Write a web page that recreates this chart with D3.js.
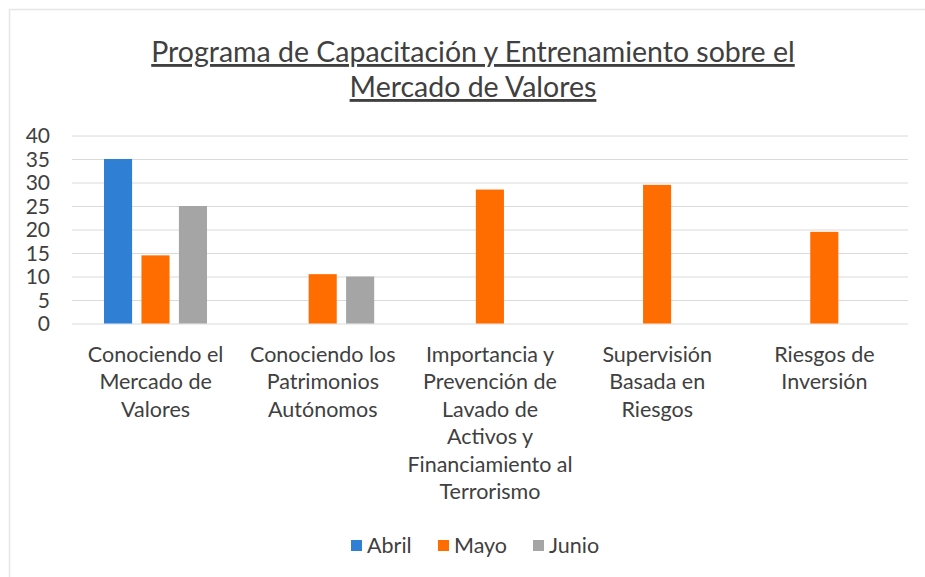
<!DOCTYPE html>
<html lang='es'>
	<head>
		<meta charset='utf-8'>
		<title>Programa de Capacitación</title>
		<script type='text/javascript' src='https://cdn.jsdelivr.net/npm/d3@7'></script>
		<style>
			body { margin: 0; background: #ffffff; }
			text { font-family: Lato, 'Open Sans', sans-serif; fill: #404040; }
		</style>
	</head>
	<body>
		<script type='text/javascript'>
		{
			var categories = [
				['Conociendo el', 'Mercado de', 'Valores'],
				['Conociendo los', 'Patrimonios', 'Autónomos'],
				['Importancia y', 'Prevención de', 'Lavado de', 'Activos y', 'Financiamiento al', 'Terrorismo'],
				['Supervisión', 'Basada en', 'Riesgos'],
				['Riesgos de', 'Inversión']
			];
			var series_names = ['Abril', 'Mayo', 'Junio'];
			var series_colors = ['#2f7fd4', '#ff6d00', '#a5a5a5'];
			var abril = [35, null, null, null, null];
			var mayo = [14.5, 10.5, 28.5, 29.5, 19.5];
			var junio = [25, 10, null, null, null];
			var y_ticks = [0, 5, 10, 15, 20, 25, 30, 35, 40];
			var title_lines = ['Programa de Capacitación y Entrenamiento sobre el', 'Mercado de Valores'];

			var width = 925, height = 577;
			var svg = d3.select('body').append('svg').attr('width', width).attr('height', height);

			// chart border (only left and top edges visible on the scan)
			svg.append('path').attr('d', 'M9.5,' + height + 'V9.5H' + width)
				.attr('fill', 'none').attr('stroke', '#e6e6e6').attr('stroke-width', 1.5);

			// title
			svg.selectAll('text.title').data(title_lines).enter().append('text')
				.attr('class', 'title')
				.attr('x', 473).attr('y', (d, i) => 62 + i * 35)
				.attr('text-anchor', 'middle')
				.style('font-size', '28.5px')
				.style('text-decoration', 'underline')
				.text(d => d);

			var plot_left = 72, plot_right = 908, y0 = 323.5, y40 = 135.5;
			var cat_idx = d3.range(categories.length);
			var x0 = d3.scaleBand().domain(cat_idx).range([plot_left, plot_right]);
			var x1 = d3.scaleBand().domain(series_names).range([32, 135]).paddingInner(0.25);
			var y = d3.scaleLinear().domain([0, 40]).range([y0, y40]);

			// gridlines
			svg.append('g').selectAll('line').data(y_ticks).enter().append('line')
				.attr('x1', plot_left).attr('x2', plot_right)
				.attr('y1', d => y(d) + 0.5).attr('y2', d => y(d) + 0.5)
				.attr('stroke', '#dadada').attr('stroke-width', 1);

			// y axis labels
			var y_axis = d3.axisLeft(y).tickValues(y_ticks).tickSize(0).tickPadding(0);
			var gy = svg.append('g').attr('transform', 'translate(50,0)').call(y_axis);
			gy.select('.domain').remove();
			gy.selectAll('text').style('font-size', '21px').attr('fill', '#404040').attr('dy', '0.34em');

			// bars
			var all_series = [abril, mayo, junio];
			var groups = svg.append('g').selectAll('g').data(all_series).enter().append('g')
				.attr('fill', (d, i) => series_colors[i]);
			groups.each(function (vals, si) {
				d3.select(this).selectAll('rect')
					.data(vals.map((v, ci) => ({ v: v, ci: ci })).filter(d => d.v != null))
					.enter().append('rect')
					.attr('x', d => x0(d.ci) + x1(series_names[si]))
					.attr('width', x1.bandwidth())
					.attr('y', d => y(d.v))
					.attr('height', d => y(0) - y(d.v));
			});

			// category labels
			var cat_g = svg.append('g').selectAll('text').data(categories).enter().append('text')
				.attr('text-anchor', 'middle')
				.style('font-size', '21.5px')
				.attr('transform', (d, i) => 'translate(' + (x0(i) + x0.bandwidth() / 2) + ',362)');
			cat_g.selectAll('tspan').data(d => d).enter().append('tspan')
				.attr('x', 0).attr('y', (d, i) => i * 27.4)
				.text(d => d);

			// legend
			var legend_x = [351, 438, 533];
			var lg = svg.append('g').selectAll('g').data(series_names).enter().append('g')
				.attr('transform', (d, i) => 'translate(' + legend_x[i] + ',540)');
			lg.append('rect').attr('width', 11).attr('height', 11)
				.attr('fill', (d, i) => series_colors[i]);
			lg.append('text').attr('x', 16).attr('y', 13)
				.style('font-size', '21.5px')
				.text(d => d);
		}
		</script>
	</body>
</html>
